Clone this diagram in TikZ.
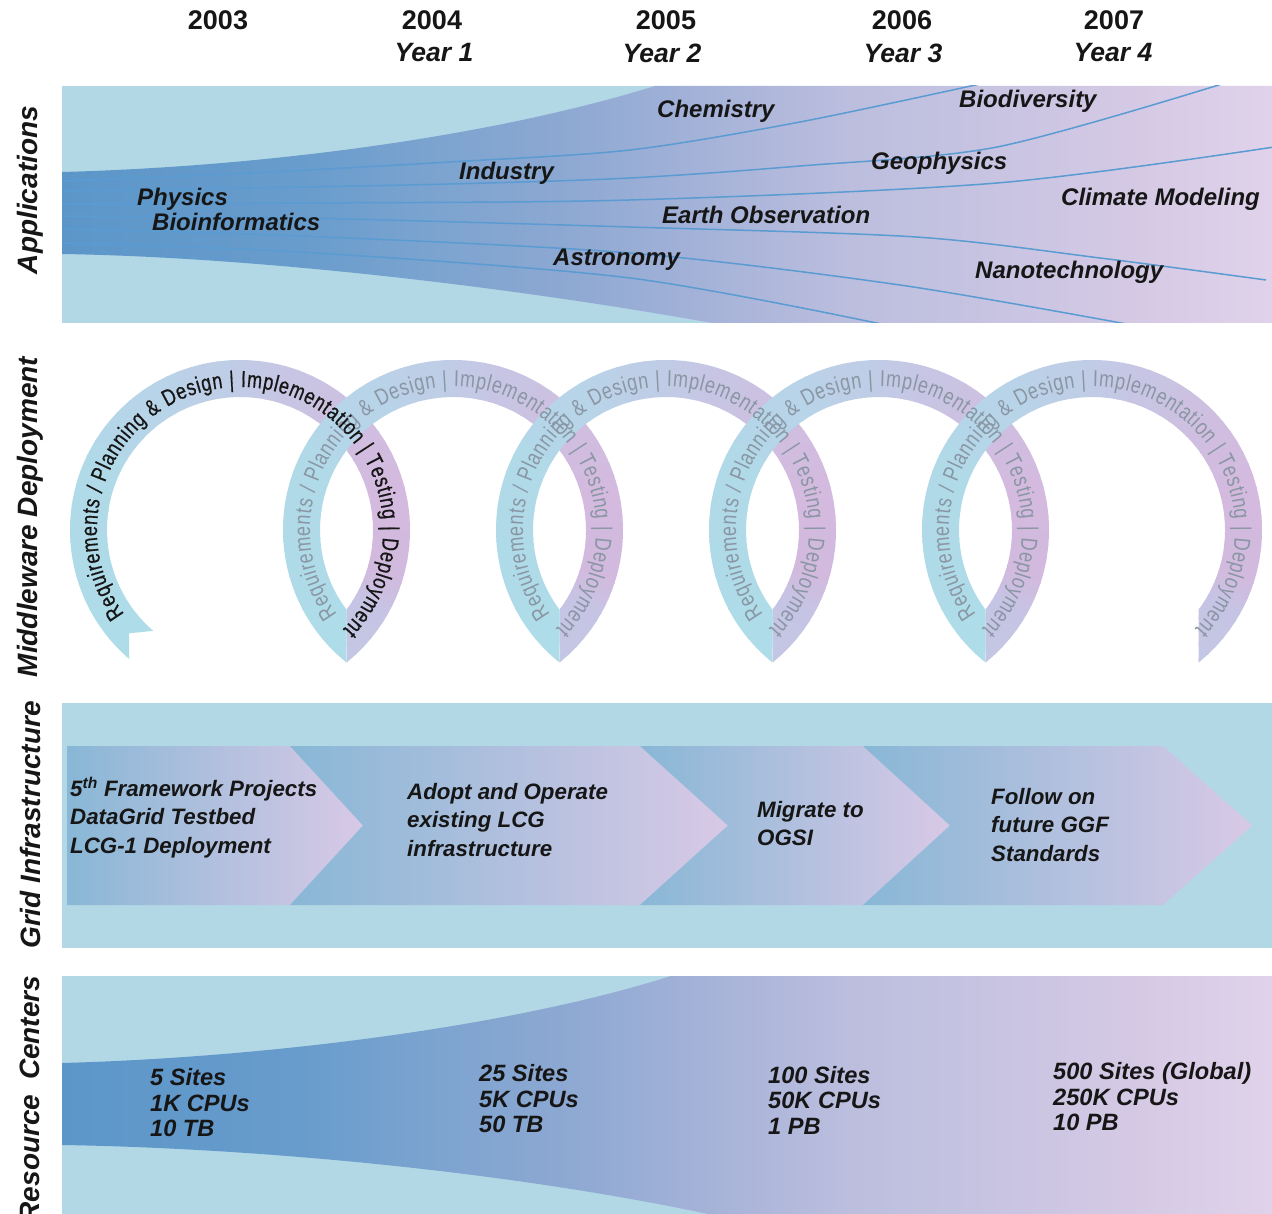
\documentclass[tikz,border=0pt]{standalone}
\usepackage{fontspec}
\setmainfont{Liberation Sans}
\newfontfamily\ringfont[FakeStretch=0.78]{Liberation Sans}
\newfontfamily\ringfontdark[FakeStretch=0.78,FakeBold=0.6]{Liberation Sans}
\usetikzlibrary{decorations.text}

% palette
\definecolor{bandblue}{RGB}{178,215,229}
\definecolor{fn0}{RGB}{92,150,201}
\definecolor{fn1}{RGB}{104,156,204}
\definecolor{fn2}{RGB}{122,163,207}
\definecolor{fn3}{RGB}{140,168,210}
\definecolor{fn4}{RGB}{164,178,216}
\definecolor{fn5}{RGB}{188,190,222}
\definecolor{fn6}{RGB}{200,196,226}
\definecolor{fn7}{RGB}{214,202,229}
\definecolor{fn8}{RGB}{224,210,234}
\definecolor{rg0}{RGB}{174,220,232}
\definecolor{rg1}{RGB}{176,218,232}
\definecolor{rg2}{RGB}{184,212,232}
\definecolor{rg3}{RGB}{190,206,230}
\definecolor{rg4}{RGB}{200,197,228}
\definecolor{rg5}{RGB}{208,190,224}
\definecolor{rg6}{RGB}{211,186,222}
\definecolor{rg7}{RGB}{210,186,222}
\definecolor{rg8}{RGB}{198,196,228}
\definecolor{rg9}{RGB}{194,200,229}
\definecolor{chevL}{RGB}{137,183,214}
\definecolor{chevR}{RGB}{216,201,230}
\definecolor{appline}{RGB}{90,155,210}
\definecolor{ink}{RGB}{22,22,22}
\definecolor{fadeink}{RGB}{138,150,164}

% horizontal colour strip between two heights (used inside a clip)
\newcommand\gradstrip[2]{%
  \foreach \xa/\xb/\ca/\cb in {62/300/fn0/fn1,300/420/fn1/fn2,420/560/fn2/fn3,
      560/700/fn3/fn4,700/850/fn4/fn5,850/1000/fn5/fn6,1000/1150/fn6/fn7,1150/1272/fn7/fn8}{%
    \shade[left color=\ca,right color=\cb] (\xa-0.5,#1) rectangle (\xb+0.5,#2);
  }}

% conical colour wedges around a loop centre (used inside a clip)
\newcommand\ringfill[1]{%
  \foreach \pa/\pb/\ca/\cb in {128/200/rg0/rg1,200/235/rg1/rg2,235/262/rg2/rg3,
      262/290/rg3/rg4,290/320/rg4/rg5,320/345/rg5/rg6,345/375/rg6/rg7,
      375/392/rg7/rg8,392/414/rg8/rg9}{%
    \foreach \i in {0,...,5}{%
      \pgfmathsetmacro\aa{\pa+(\pb-\pa)*\i/6}%
      \pgfmathsetmacro\bb{\pa+(\pb-\pa)*(\i+1)/6+0.6}%
      \pgfmathtruncatemacro\mx{100*\i/5}%
      \colorlet{wedgecol}{\cb!\mx!\ca}%
      \fill[wedgecol] (#1,530) -- +(\aa:188) -- +(\bb:188) -- cycle;
    }}}

\newcommand\cycletext{Requirements / Planning {\&} Design | Implementation | Testing | Deployment}

\begin{document}
\begin{tikzpicture}[x=1pt,y=-1pt,
  yearlbl/.style={font=\fontsize{27}{29}\selectfont\bfseries, text=ink, inner sep=0},
  yrlbl/.style={font=\fontsize{26.5}{29}\selectfont\bfseries\itshape, text=ink, inner sep=0},
  sidelbl/.style={font=\fontsize{28}{30}\selectfont\bfseries\itshape, text=ink, rotate=90, inner sep=0},
  applbl/.style={font=\fontsize{24}{26}\selectfont\bfseries\itshape, text=ink, anchor=west, inner sep=0},
  gridlbl/.style={font=\fontsize{22.3}{28.5}\selectfont\bfseries\itshape, text=ink, anchor=west, align=left, inner sep=0},
  reslbl/.style={font=\fontsize{23.6}{25.5}\selectfont\bfseries\itshape, text=ink, anchor=west, align=left, inner sep=0},
  fanline/.style={draw=appline, line width=1.5pt},
  chev/.style={left color=chevL, right color=chevR}
]
\useasboundingbox (0,0) rectangle (1272,1214);
\fill[white] (0,0) rectangle (1272,1214);

% ---------- year header ----------
\node[yearlbl] (y2003) at (218,20) {2003};
\node[yearlbl] (y2004) at (432,20) {2004};
\node[yearlbl] (y2005) at (666,20) {2005};
\node[yearlbl] (y2006) at (902,20) {2006};
\node[yearlbl] (y2007) at (1114,20) {2007};
\node[yrlbl] (yr1) at (434,53) {Year 1};
\node[yrlbl] (yr2) at (662,53) {Year 2};
\node[yrlbl] (yr3) at (903,53) {Year 3};
\node[yrlbl] (yr4) at (1113,53) {Year 4};

% ---------- row labels ----------
\node[sidelbl] (lapp) at (30,190) {Applications};
\node[sidelbl] (lmid) at (30,517) {Middleware Deployment};
\node[sidelbl] (lgrid) at (30,825) {Grid Infrastructure};
\node[sidelbl] (lres) at (30,1099) {Resource\hspace{0.25em} Centers};

% ---------- applications ----------
\fill[bandblue] (62,86) rectangle (1272,323);
\begin{scope}
  \clip (62,172) .. controls (250,167) and (480,140) .. (655,86) -- (1272,86)
        -- (1272,323) -- (712,323) .. controls (500,285) and (250,257) .. (62,254) -- cycle;
  \gradstrip{86}{323}
\end{scope}
\begin{scope}
  \clip (62,86) rectangle (1272,323);
  \draw[fanline] plot[smooth] coordinates {(62,181) (250,173) (450,162) (630,150) (800,122) (980,84)};
  \draw[fanline] plot[smooth] coordinates {(62,191) (250,188) (450,184) (630,178) (800,166) (997,147) (1222,84)};
  \draw[fanline] plot[smooth] coordinates {(62,204) (300,203) (630,200) (997,183) (1274,147)};
  \draw[fanline] plot[smooth] coordinates {(62,216) (300,218) (630,227) (916,237) (1100,258) (1266,280)};
  \draw[fanline] plot[smooth] coordinates {(62,229) (300,236) (630,253) (900,285) (1132,325)};
  \draw[fanline] plot[smooth] coordinates {(62,243) (300,252) (630,278) (886,325)};
\end{scope}
\node[applbl] (physics) at (137,199) {Physics};
\node[applbl] (bioinf) at (152,222) {Bioinformatics};
\node[applbl] (industry) at (459,173) {Industry};
\node[applbl] (chemistry) at (657,111) {Chemistry};
\node[applbl] (biodiv) at (959,101) {Biodiversity};
\node[applbl] (geophys) at (871,163) {Geophysics};
\node[applbl] (earthobs) at (662,215) {Earth Observation};
\node[applbl] (climate) at (1061,199) {Climate Modeling};
\node[applbl] (astro) at (553,260) {Astronomy};
\node[applbl] (nano) at (975,272) {Nanotechnology};

% ---------- middleware deployment cycles ----------
% first cycle, with a notched tail
\begin{scope}
  \clip (240,530) ++(130.7:170) arc[start angle=130.7,end angle=411.2,radius=170]
        -- (346.5,609.7) arc[start angle=396.8,end angle=130.7,radius=133]
        -- (129.2,633.3) -- cycle;
  \ringfill{240}
\end{scope}
% following cycles
\foreach \cx in {453,666,879,1092}{
  \begin{scope}
    \clip (\cx,530) ++(128.8:170) arc[start angle=128.8,end angle=411.2,radius=170]
          -- (\cx+106.5,609.7) arc[start angle=396.8,end angle=143.2,radius=133] -- cycle;
    \ringfill{\cx}
  \end{scope}
}
\foreach \cx in {453,666,879,1092}{
  \path[decorate, decoration={text along path, text format delimiters={[}{]},
      text={[\ringfont\fontsize{23}{26}\selectfont\color{fadeink}]\cycletext},
      text align={fit to path}}]
    (\cx,530) ++(144:143) arc[start angle=144,end angle=404,radius=143];
}
\path[decorate, decoration={text along path, text format delimiters={[}{]},
    text={[\ringfontdark\fontsize{23}{26}\selectfont\color{ink}]\cycletext},
    text align={fit to path}}]
  (240,530) ++(144:143) arc[start angle=144,end angle=404,radius=143];

% ---------- grid infrastructure ----------
\fill[bandblue] (62,703) rectangle (1272,948);
\shade[chev] (67,746) -- (290,746) -- (363,825.5) -- (290,905) -- (67,905) -- cycle;
\shade[chev] (290,746) -- (640,746) -- (728,825.5) -- (640,905) -- (290,905) -- (363,825.5) -- cycle;
\shade[chev] (640,746) -- (863,746) -- (950,825.5) -- (863,905) -- (640,905) -- (728,825.5) -- cycle;
\shade[chev] (863,746) -- (1163,746) -- (1252,825.5) -- (1163,905) -- (863,905) -- (950,825.5) -- cycle;
\node[gridlbl] (g1) at (70,817.5) {5\textsuperscript{th} Framework Projects\\DataGrid Testbed\\LCG-1 Deployment};
\node[gridlbl] (g2) at (407,820) {Adopt and Operate\\existing LCG\\infrastructure};
\node[gridlbl] (g3) at (757,823.5) {Migrate to\\OGSI};
\node[gridlbl] (g4) at (991,825) {Follow on\\future GGF\\Standards};

% ---------- resource centres ----------
\fill[bandblue] (62,976) rectangle (1272,1214);
\begin{scope}
  \clip (62,1063) .. controls (250,1058) and (500,1030) .. (671,976) -- (1272,976)
        -- (1272,1214) -- (708,1214) .. controls (500,1170) and (250,1148) .. (62,1145) -- cycle;
  \gradstrip{976}{1214}
\end{scope}
\node[reslbl] (r1) at (150,1103) {5 Sites\\1K CPUs\\10 TB};
\node[reslbl] (r2) at (479,1099) {25 Sites\\5K CPUs\\50 TB};
\node[reslbl] (r3) at (768,1100) {100 Sites\\50K CPUs\\1 PB};
\node[reslbl] (r4) at (1053,1097) {500 Sites (Global)\\250K CPUs\\10 PB};
\end{tikzpicture}
\end{document}
